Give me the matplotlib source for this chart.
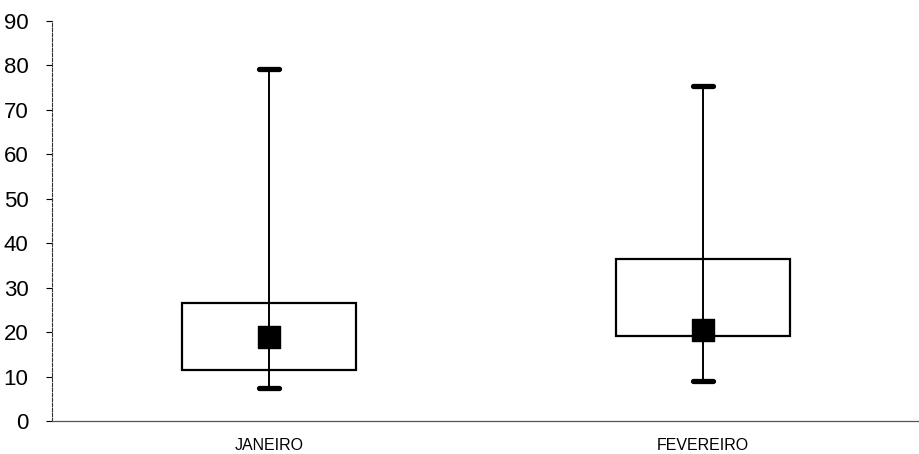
import matplotlib
matplotlib.use("Agg")
import matplotlib.pyplot as plt

# ---------------------------------
# Data
# ---------------------------------
months = ["JANEIRO", "FEVEREIRO"]
mins = [7.4, 9.0]
q1 = [11.5, 19.1]
mid = [19.0, 20.5]
q3 = [26.5, 36.5]
maxs = [79.2, 75.4]
yticks = [0, 10, 20, 30, 40, 50, 60, 70, 80, 90]

plt.rcParams["font.family"] = ["Liberation Sans", "DejaVu Sans"]

fig = plt.figure(figsize=(9.2, 4.54), dpi=100)
ax = fig.add_axes([0.0565, 0.0727, 0.9435, 0.881])

x = list(range(len(months)))

# whisker line min -> max
ax.vlines(x, mins, maxs, color="black", linewidth=1.4, zorder=2)

# caps
for xi, lo, hi in zip(x, mins, maxs):
    ax.hlines([lo, hi], xi - 0.024, xi + 0.024, color="black", linewidth=3.8,
              capstyle="round", zorder=3)

# box q1 -> q3
heights = [b - a for a, b in zip(q1, q3)]
ax.bar(x, heights, bottom=q1, width=0.40, fill=False, edgecolor="black",
       linewidth=1.6, zorder=2)

# square marker
ax.scatter(x, mid, marker="s", s=230, color="black", zorder=4)

# ---------------------------------
# Axes styling
# ---------------------------------
ax.set_xlim(-0.5, 1.5)
ax.set_ylim(0, 90)
ax.set_yticks(yticks)
ax.set_xticks(x)
ax.set_xticklabels(months, fontsize=11.5)

ax.spines["top"].set_visible(False)
ax.spines["right"].set_visible(False)
ax.spines["left"].set_linestyle((0, (3, 1.5)))
ax.spines["left"].set_linewidth(0.8)
ax.spines["left"].set_color("#333333")
ax.spines["bottom"].set_linewidth(0.9)
ax.spines["bottom"].set_color("#555555")

ax.tick_params(axis="y", length=4, width=0.8, pad=13, labelsize=16)
ax.tick_params(axis="x", length=0, pad=12)

fig.savefig("out.png", dpi=100, facecolor="white")
